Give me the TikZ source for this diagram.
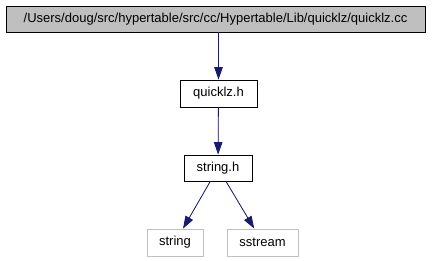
\documentclass[tikz,border=0pt]{standalone}
\usepackage{fontspec}
\setmainfont{Liberation Sans}
\usetikzlibrary{arrows.meta}
\definecolor{edgeblue}{HTML}{191970}
\definecolor{boxgray}{HTML}{BFBFBF}
\begin{document}
\begin{tikzpicture}[x=1pt,y=-1pt,
  file/.style={draw=black,line width=0.8pt,inner sep=0pt,font=\fontsize{13}{15}\selectfont},
  ext/.style={file,draw=boxgray},
  dep/.style={draw=edgeblue,line width=0.8pt,-{Triangle[length=12.5pt,width=8.5pt]},fill=edgeblue}]
\useasboundingbox (0,0) rectangle (435,261);
\node[file,fill=boxgray,minimum width=419pt,minimum height=26pt] (main) at (215.5,19) {/Users/doug/src/hypertable/src/cc/Hypertable/Lib/quicklz/quicklz.cc};
\node[file,minimum width=77pt,minimum height=27pt] (qh) at (218.5,93.5) {quicklz.h};
\node[file,minimum width=68pt,minimum height=26pt] (sh) at (218,168) {string.h};
\node[ext,minimum width=56pt,minimum height=27pt] (str) at (175,242.5) {string};
\node[ext,minimum width=71pt,minimum height=27pt] (ss) at (262.5,242.5) {sstream};
\draw[dep] (main.south -| qh.north) -- (qh.north);
\draw[dep] (qh) -- (sh);
\draw[dep] (sh) -- (str);
\draw[dep] (sh) -- (ss);
\end{tikzpicture}
\end{document}
